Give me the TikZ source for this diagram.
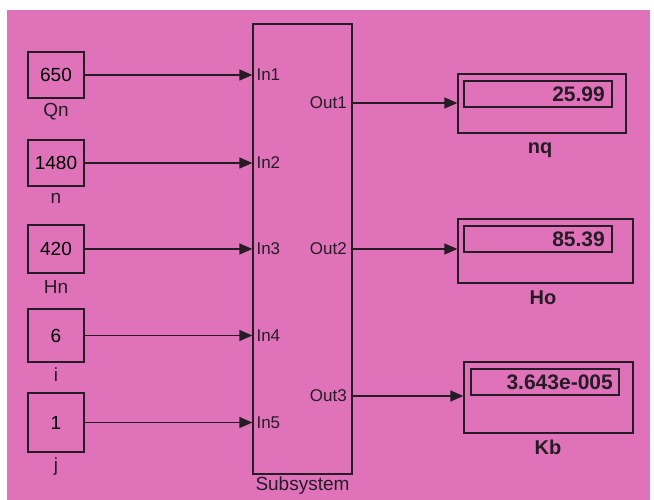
\documentclass[tikz,border=0pt]{standalone}
\usepackage{fontspec}
\setmainfont{Liberation Sans}
\usetikzlibrary{arrows.meta}
\definecolor{bgpink}{RGB}{224,114,186}
\definecolor{ink}{RGB}{38,28,38}
\tikzset{
  blk/.style={draw=ink, line width=1.3pt, inner sep=0pt},
  cst/.style={blk, minimum width=56pt, font=\fontsize{19}{21}\selectfont},
  lbl/.style={text=ink, inner sep=0pt, font=\fontsize{19}{21}\selectfont},
  port/.style={text=ink, inner sep=0pt, font=\fontsize{17}{19}\selectfont},
  dlbl/.style={text=ink, inner sep=0pt, font=\bfseries\fontsize{20}{22}\selectfont},
  dval/.style={text=ink, inner sep=0pt, font=\bfseries\fontsize{21}{23}\selectfont},
  wire/.style={draw=ink, line width=1.3pt, -{Triangle[length=13pt,width=11pt]}},
}
\begin{document}
\begin{tikzpicture}[x=1pt,y=-1pt]
\useasboundingbox (0,0) rectangle (654,500);
\fill[white] (0,0) rectangle (654,500);
\fill[bgpink] (7,10) rectangle (650,500);
% constants
\node[cst, minimum height=46pt] (c1) at (56,75) {650};
\node[cst, minimum height=46pt] (c2) at (56,163) {1480};
\node[cst, minimum height=48pt] (c3) at (56,249) {420};
\node[cst, minimum height=53pt] (c4) at (56,335.5) {6};
\node[cst, minimum height=59pt] (c5) at (56,422.5) {1};
\node[lbl] (l1) at (56,112) {Qn};
\node[lbl] (l2) at (56,198) {n};
\node[lbl] (l3) at (56,287) {Hn};
\node[lbl] (l4) at (56,375) {i};
\node[lbl] (l5) at (56,467) {j};
% subsystem
\node[blk, minimum width=99pt, minimum height=450pt] (ss) at (302.5,249) {};
\node[lbl, anchor=north] (sl) at (302.5,477) {Subsystem};
\foreach \i in {1,...,5} {
  \node[port, anchor=west] (in\i) at (ss.west |- c\i.east) [xshift=4pt] {In\i};
  \draw[wire] (c\i.east) -- (c\i.east -| ss.west);
}
\coordinate (o1) at (352,103);
\coordinate (o2) at (352,249);
\coordinate (o3) at (352,396);
\node[port, anchor=east] (out1) at (347,103) {Out1};
\node[port, anchor=east] (out2) at (347,249) {Out2};
\node[port, anchor=east] (out3) at (347,396) {Out3};
% displays
\node[blk, minimum width=168pt, minimum height=59pt] (d1) at (542,103.5) {};
\node[blk, minimum width=148pt, minimum height=26pt] (i1) at (538,94) {};
\node[dval, anchor=east] (v1) at (605,94) {25.99};
\node[dlbl] (dl1) at (540,150) {nq};
\node[blk, minimum width=175pt, minimum height=64pt] (d2) at (545.5,251) {};
\node[blk, minimum width=148pt, minimum height=26pt] (i2) at (538,239) {};
\node[dval, anchor=east] (v2) at (605,239) {85.39};
\node[dlbl] (dl2) at (543,298) {Ho};
\node[blk, minimum width=169pt, minimum height=71pt] (d3) at (548.5,397.5) {};
\node[blk, minimum width=148pt, minimum height=26pt] (i3) at (545,382) {};
\node[dval, anchor=east] (v3) at (613,382) {3.643e-005};
\node[dlbl] (dl3) at (548,447) {Kb};
\draw[wire] (o1) -- (o1 -| d1.west);
\draw[wire] (o2) -- (o2 -| d2.west);
\draw[wire] (o3) -- (o3 -| d3.west);
\end{tikzpicture}
\end{document}
